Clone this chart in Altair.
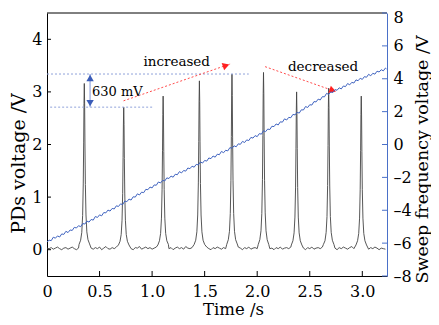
import altair as alt
import pandas as pd

# ---------------- data ----------------
PEAK_TIMES = [0.355, 0.73, 1.105, 1.45, 1.76, 2.06, 2.375, 2.68, 2.99]
PEAK_OFFSETS = [-0.05, -0.035, -0.024, -0.016, -0.01, -0.006, -0.003, 0.0,
                0.003, 0.006, 0.01, 0.016, 0.024, 0.035, 0.05]
PEAK_VALUES = [
    [0.10, 0.18, 0.33, 0.65, 1.25, 2.03, 2.78, 3.16, 2.77, 2.01, 1.24, 0.66, 0.34, 0.19, 0.11],
    [0.09, 0.16, 0.29, 0.56, 1.07, 1.75, 2.39, 2.71, 2.38, 1.73, 1.06, 0.56, 0.29, 0.16, 0.09],
    [0.09, 0.17, 0.31, 0.60, 1.15, 1.88, 2.57, 2.92, 2.56, 1.87, 1.14, 0.60, 0.31, 0.17, 0.10],
    [0.10, 0.18, 0.34, 0.66, 1.27, 2.06, 2.83, 3.21, 2.82, 2.05, 1.26, 0.66, 0.34, 0.18, 0.10],
    [0.10, 0.19, 0.35, 0.69, 1.32, 2.15, 2.94, 3.34, 2.93, 2.14, 1.31, 0.69, 0.35, 0.19, 0.11],
    [0.10, 0.19, 0.36, 0.69, 1.33, 2.17, 2.97, 3.37, 2.96, 2.16, 1.32, 0.70, 0.36, 0.19, 0.10],
    [0.09, 0.17, 0.32, 0.62, 1.19, 1.93, 2.64, 3.00, 2.63, 1.92, 1.18, 0.62, 0.32, 0.17, 0.09],
    [0.10, 0.17, 0.33, 0.63, 1.22, 1.98, 2.70, 3.07, 2.69, 1.97, 1.21, 0.63, 0.33, 0.18, 0.10],
    [0.09, 0.17, 0.31, 0.60, 1.15, 1.88, 2.57, 2.92, 2.56, 1.87, 1.14, 0.60, 0.31, 0.17, 0.09],
]
# PD baseline, one value every 0.02 s from 0.00 to 3.22 s
BASE_VALUES = [
    0.03, 0.02, 0.04, 0.01, 0.03, 0.05, 0.02, 0.00, 0.03, 0.04,
    0.01, 0.03, 0.05, 0.02, 0.00, 0.03, 0.06, 0.04, 0.02, 0.03,
    0.05, 0.03, 0.01, 0.04, 0.02, 0.05, 0.00, 0.03, 0.06, 0.02,
    0.01, 0.04, 0.02, 0.05, 0.03, 0.02, 0.04, 0.01, 0.03, 0.05,
    0.02, 0.00, 0.04, 0.03, 0.06, 0.01, 0.03, 0.05, 0.02, 0.04,
    0.01, 0.03, 0.05, 0.02, 0.04, 0.03, 0.01, 0.05, 0.02, 0.04,
    0.00, 0.03, 0.05, 0.02, 0.04, 0.01, 0.06, 0.03, 0.02, 0.04,
    0.03, 0.05, 0.02, 0.04, 0.01, 0.03, 0.05, 0.02, 0.00, 0.04,
    0.02, 0.05, 0.03, 0.01, 0.04, 0.02, 0.05, 0.03, 0.01, 0.04,
    0.02, 0.05, 0.03, 0.00, 0.04, 0.02, 0.05, 0.01, 0.03, 0.04,
    0.02, 0.05, 0.03, 0.01, 0.04, 0.06, 0.02, 0.03, 0.00, 0.04,
    0.02, 0.05, 0.01, 0.03, 0.04, 0.02, 0.05, 0.03, 0.01, 0.04,
    0.02, 0.05, 0.03, 0.00, 0.04, 0.02, 0.05, 0.01, 0.03, 0.04,
    0.02, 0.05, 0.03, 0.01, 0.04, 0.02, 0.05, 0.03, 0.00, 0.04,
    0.02, 0.05, 0.03, 0.01, 0.04, 0.06, 0.02, 0.03, 0.01, 0.04,
    0.02, 0.05, 0.03, 0.01, 0.04, 0.02, 0.05, 0.03, 0.00, 0.03,
    0.02, 0.01,
]
# sweep voltage, one value every 0.02 s from 0.00 to 3.22 s, then 3.23 s
SWEEP_VALUES = [
    -5.93, -5.82, -5.85, -5.64, -5.70, -5.56, -5.63, -5.44, -5.47, -5.28,
    -5.36, -5.20, -5.23, -5.04, -5.08, -4.94, -5.00, -4.81, -4.84, -4.66,
    -4.72, -4.56, -4.60, -4.38, -4.44, -4.28, -4.34, -4.14, -4.16, -3.99,
    -4.05, -3.89, -3.92, -3.73, -3.77, -3.61, -3.66, -3.44, -3.48, -3.32,
    -3.38, -3.18, -3.20, -3.00, -3.07, -2.90, -2.93, -2.73, -2.75, -2.59,
    -2.64, -2.46, -2.48, -2.28, -2.34, -2.18, -2.22, -2.03, -2.07, -1.92,
    -1.99, -1.81, -1.84, -1.65, -1.73, -1.58, -1.62, -1.43, -1.47, -1.32,
    -1.38, -1.21, -1.24, -1.06, -1.13, -0.97, -1.01, -0.82, -0.86, -0.70,
    -0.77, -0.59, -0.62, -0.42, -0.50, -0.35, -0.39, -0.19, -0.23, -0.08,
    -0.14, 0.04, 0.01, 0.19, 0.12, 0.28, 0.24, 0.43, 0.39, 0.54,
    0.48, 0.66, 0.63, 0.84, 0.78, 0.94, 0.91, 1.11, 1.09, 1.25,
    1.19, 1.38, 1.36, 1.56, 1.49, 1.65, 1.63, 1.83, 1.80, 1.96,
    1.91, 2.11, 2.10, 2.31, 2.25, 2.42, 2.40, 2.61, 2.59, 2.76,
    2.71, 2.91, 2.90, 3.11, 3.05, 3.20, 3.16, 3.34, 3.30, 3.45,
    3.38, 3.56, 3.52, 3.71, 3.63, 3.78, 3.74, 3.93, 3.88, 4.03,
    3.96, 4.13, 4.09, 4.27, 4.18, 4.33, 4.28, 4.46, 4.41, 4.55,
    4.48, 4.65, 4.60,
]
X_TICKS = [0, 0.5, 1.0, 1.5, 2.0, 2.5, 3.0]
LEFT_TICKS = [0, 1, 2, 3, 4]
RIGHT_TICKS = [-8, -6, -4, -2, 0, 2, 4, 6, 8]

# annotation values
LEVEL_HIGH = 3.34
LEVEL_LOW = 2.71
HLINES_T0 = [0.0, 0.03]
HLINES_T1 = [1.92, 1.01]
HLINES_V = [LEVEL_HIGH, LEVEL_LOW]
ARROW_T = 0.41
RED_ARROWS = [  # (t0, v0, t1, v1)
    (0.728, 2.83, 1.742, 3.53),
    (2.075, 3.48, 2.757, 3.00),
]
TEXTS = [("increased", 1.234, 3.56, "center", 13.5),
         ("decreased", 2.627, 3.48, "center", 13.5),
         ("630 mV", 0.428, 2.99, "left", 13)]

# ---------------- build tables ----------------
rows = []
for i, v in enumerate(BASE_VALUES):
    t = round(i * 0.02, 3)
    if min(abs(t - p) for p in PEAK_TIMES) > 0.052:
        rows.append((t, v))
for p, vals in zip(PEAK_TIMES, PEAK_VALUES):
    for o, v in zip(PEAK_OFFSETS, vals):
        rows.append((round(p + o, 4), v))
pd_df = pd.DataFrame(sorted(rows), columns=["t", "v"])

sweep_t = [round(i * 0.02, 3) for i in range(len(SWEEP_VALUES) - 1)] + [3.23]
sweep_df = pd.DataFrame({"t": sweep_t, "v": SWEEP_VALUES})

W, H = 340, 263
FONT = "DejaVu Serif"
BLUE = "#3f63c0"
AXBLUE = "#4a70c8"

xs = alt.Scale(domain=[0, 3.235], nice=False, zero=False)
ys = alt.Scale(domain=[-0.5, 4.5], nice=False, zero=False)
rs = alt.Scale(domain=[-8, 8], nice=False, zero=False)

x_axis = alt.Axis(values=X_TICKS, ticks=False, labelPadding=7, labelFlush=False,
                  labelExpr="datum.value == 0 ? '0' : format(datum.value, '.1f')",
                  title="Time /s", titleX=186, titleY=33, titleBaseline="middle",
                  titleFontSize=16.5, titleFontWeight="normal", domainColor="black", grid=False)
y_axis = alt.Axis(values=LEFT_TICKS, ticks=False, labelPadding=5,
                  labelFlush=False,
                  title="PDs voltage /V", titleAngle=270, titleX=-28.5, titleY=150,
                  titleFontSize=19, titleBaseline="middle", titleAlign="center",
                  titleFontWeight="normal", domainColor="black", grid=False)
r_axis = alt.Axis(values=RIGHT_TICKS, orient="right", ticks=False, labelPadding=6,
                  labelFlush=False, domainColor=AXBLUE, zindex=1, grid=False,
                  labelExpr="(datum.value < 0 ? '\u2013' : '') + abs(datum.value)",
                  labelOffset={"condition": {"test": "datum.value == 8", "value": 4}, "value": 0},
                  title="Sweep frequency voltage /V", titleAngle=270, titleX=35, titleY=146,
                  titleFontSize=17.5, titleBaseline="middle", titleAlign="center",
                  titleFontWeight="normal")

X = alt.X("t:Q", scale=xs, axis=x_axis)
Y = alt.Y("v:Q", scale=ys, axis=y_axis)
YR = alt.Y("v:Q", scale=rs, axis=r_axis)

pd_line = alt.Chart(pd_df).mark_line(color="#444444", strokeWidth=0.9).encode(x=X, y=Y)

hl_df = pd.DataFrame({"t": HLINES_T0, "t2": HLINES_T1, "v": HLINES_V})
hlines = alt.Chart(hl_df).mark_rule(color="#8fa2da", strokeDash=[2, 2], strokeWidth=1).encode(
    x=X, x2="t2:Q", y=Y)

shaft_df = pd.DataFrame({"t": [ARROW_T], "v": [LEVEL_LOW], "v2": [LEVEL_HIGH]})
shaft = alt.Chart(shaft_df).mark_rule(color="#a9b8e6", strokeWidth=1.5).encode(
    x=X, y=Y, y2="v2:Q")
head_up = alt.Chart(pd.DataFrame({"t": [ARROW_T], "v": [LEVEL_HIGH]})).mark_point(
    shape="triangle-up", filled=True, color="#3a5cb8", size=55, opacity=1, yOffset=4).encode(x=X, y=Y)
head_dn = alt.Chart(pd.DataFrame({"t": [ARROW_T], "v": [LEVEL_LOW]})).mark_point(
    shape="triangle-down", filled=True, color="#3a5cb8", size=55, opacity=1, yOffset=-4).encode(x=X, y=Y)

red_df = pd.DataFrame([{"t": a[0], "v": a[1], "t2": a[2], "v2": a[3]} for a in RED_ARROWS])
red_lines = alt.Chart(red_df).mark_rule(color="#ff4d4d", strokeDash=[2, 2], strokeWidth=1).encode(
    x=X, y=Y, x2="t2:Q", y2="v2:Q")
red_h1 = alt.Chart(pd.DataFrame({"t": [RED_ARROWS[0][2]], "v": [RED_ARROWS[0][3]]})).mark_point(
    shape="triangle-up", filled=True, color="#ff2020", size=60, opacity=1, angle=71.5,
    xOffset=-4, yOffset=1.5).encode(x=X, y=Y)
red_h2 = alt.Chart(pd.DataFrame({"t": [RED_ARROWS[1][2]], "v": [RED_ARROWS[1][3]]})).mark_point(
    shape="triangle-up", filled=True, color="#ff2020", size=60, opacity=1, angle=109.2,
    xOffset=-4, yOffset=-1.5).encode(x=X, y=Y)

txt_layers = []
for s, t, v, al, fs in TEXTS:
    txt_layers.append(alt.Chart(pd.DataFrame({"t": [t], "v": [v], "s": [s]})).mark_text(
        font=FONT, fontSize=fs, color="black", align=al, baseline="middle").encode(
        x=X, y=Y, text="s:N"))

tick_df = pd.DataFrame({"t": X_TICKS[1:]})
x_ticks = alt.Chart(tick_df).mark_rule(color="black", strokeWidth=1).encode(
    x=X, y=alt.value(H), y2=alt.value(H - 5))
y_ticks = alt.Chart(pd.DataFrame({"v": LEFT_TICKS})).mark_rule(color="black", strokeWidth=1).encode(
    y=Y, x=alt.value(0), x2=alt.value(4))

top_border = alt.Chart(pd.DataFrame({"a": [0]})).mark_rule(color="black", strokeWidth=1).encode(
    x=alt.value(0), x2=alt.value(W), y=alt.value(0))

left = alt.layer(pd_line, hlines, shaft, head_up, head_dn, red_lines, red_h1, red_h2,
                 *txt_layers, x_ticks, y_ticks, top_border)

sweep_line = alt.Chart(sweep_df).mark_line(color=BLUE, strokeWidth=1).encode(x=X, y=YR)
r_ticks = alt.Chart(pd.DataFrame({"v": RIGHT_TICKS})).mark_rule(color=AXBLUE, strokeWidth=1).encode(
    y=YR, x=alt.value(W), x2=alt.value(W - 5))
right = alt.layer(sweep_line, r_ticks)

chart = alt.layer(left, right).resolve_scale(y="independent").properties(
    width=W, height=H,
    autosize=alt.AutoSizeParams(type="none"),
    padding={"left": 39, "top": 5, "right": 44, "bottom": 41},
).configure_view(stroke=None).configure_axis(
    labelFont=FONT, titleFont=FONT, labelFontSize=16,
    labelColor="black", titleColor="black", domainWidth=1,
)

chart.save("out.html", embed_options={"renderer": "svg", "actions": False})
